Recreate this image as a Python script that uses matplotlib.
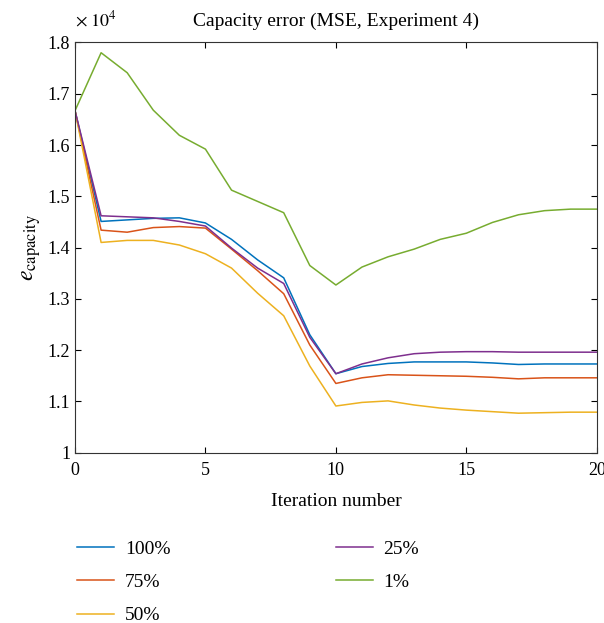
import matplotlib
matplotlib.use("Agg")
import matplotlib.pyplot as plt

plt.rcParams['font.family'] = ['Liberation Serif', 'DejaVu Serif']
plt.rcParams['mathtext.fontset'] = 'stix'

# iteraciones y error de capacidad (en unidades de 10^4)
iteraciones = list(range(21))
e_100 = [1.667, 1.451, 1.454, 1.457, 1.458, 1.448, 1.416, 1.376, 1.341, 1.230, 1.154,
         1.168, 1.174, 1.177, 1.177, 1.177, 1.175, 1.172, 1.173, 1.173, 1.173]
e_75 = [1.667, 1.434, 1.430, 1.439, 1.441, 1.438, 1.397, 1.355, 1.310, 1.210, 1.135,
        1.146, 1.152, 1.151, 1.150, 1.149, 1.147, 1.144, 1.146, 1.146, 1.146]
e_50 = [1.667, 1.410, 1.414, 1.414, 1.405, 1.388, 1.360, 1.311, 1.267, 1.169, 1.091,
        1.098, 1.101, 1.093, 1.087, 1.083, 1.080, 1.077, 1.078, 1.079, 1.079]
e_25 = [1.667, 1.462, 1.460, 1.458, 1.451, 1.442, 1.399, 1.360, 1.330, 1.225, 1.154,
        1.173, 1.185, 1.193, 1.196, 1.197, 1.197, 1.196, 1.196, 1.196, 1.196]
e_1 = [1.667, 1.780, 1.741, 1.668, 1.619, 1.592, 1.512, 1.490, 1.468, 1.365, 1.327,
       1.362, 1.382, 1.397, 1.416, 1.428, 1.449, 1.464, 1.472, 1.475, 1.475]

fig = plt.figure(figsize=(6.04, 6.23), dpi=100)
ax = fig.add_axes([0.1242, 0.2734, 0.8638, 0.6584])

ax.plot(iteraciones, e_100, color='#0072BD', lw=1.1, label='100%')
ax.plot(iteraciones, e_75, color='#D95319', lw=1.1, label='75%')
ax.plot(iteraciones, e_50, color='#EDB120', lw=1.1, label='50%')
ax.plot(iteraciones, e_25, color='#7E2F8E', lw=1.1, label='25%')
ax.plot(iteraciones, e_1, color='#77AC30', lw=1.1, label='1%')

ax.set_xlim(0, 20)
ax.set_ylim(1.0, 1.8)
ax.set_xticks([0, 5, 10, 15, 20])
ax.set_yticks([1.0, 1.1, 1.2, 1.3, 1.4, 1.5, 1.6, 1.7, 1.8])
ax.set_yticklabels(['1', '1.1', '1.2', '1.3', '1.4', '1.5', '1.6', '1.7', '1.8'])
ax.tick_params(direction='in', top=True, right=True, labelsize=13, length=4, width=0.8)
ax.tick_params(axis='x', pad=7)
for s in ax.spines.values():
    s.set_linewidth(0.8)
    s.set_color('#333333')

ax.set_xlabel('Iteration number', fontsize=14, labelpad=10)
ax.set_ylabel(r'$e_{\mathrm{capacity}}$', fontsize=17, labelpad=3)
ax.set_title('Capacity error (MSE, Experiment 4)', fontsize=14, pad=12)
fig.text(0.124, 0.968, r'$\times\;10^4$', fontsize=13, ha='left', va='center')

fig.legend(loc='upper left', bbox_to_anchor=(0.115, 0.145), ncol=2, frameon=False,
           fontsize=14, handlelength=1.9, handletextpad=0.55, columnspacing=8.5,
           labelspacing=0.8, borderaxespad=0)

fig.savefig('out.png', dpi=100)
